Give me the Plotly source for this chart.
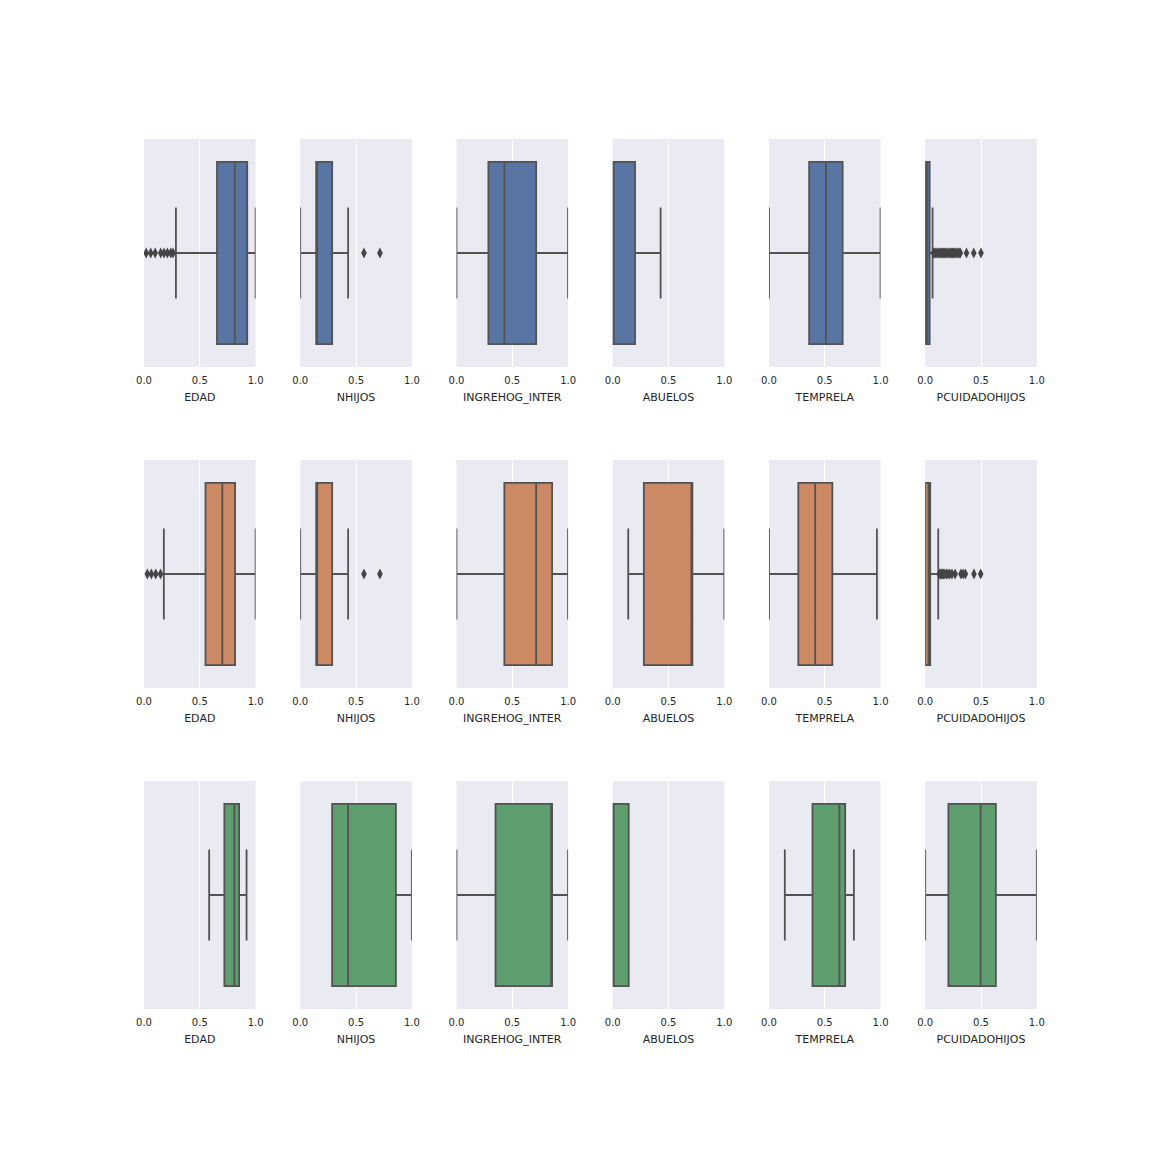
import plotly.graph_objects as go

# ---------------- data ----------------
variables = ["EDAD", "NHIJOS", "INGREHOG_INTER", "ABUELOS", "TEMPRELA", "PCUIDADOHIJOS"]
group_colors = ["#5975a4", "#cc8963", "#5f9e6e"]
tick_vals = [0.0, 0.5, 1.0]
tick_text = ["0.0", "0.5", "1.0"]

g1_q1 =     [0.654, 0.143, 0.286, 0.000, 0.360, 0.000]
g1_median = [0.813, 0.143, 0.429, 0.000, 0.510, 0.015]
g1_q3 =     [0.925, 0.286, 0.714, 0.200, 0.660, 0.040]
g1_low =    [0.286, 0.000, 0.000, 0.000, 0.000, 0.000]
g1_high =   [1.000, 0.429, 1.000, 0.429, 1.000, 0.066]
g1_out = [
    [0.02, 0.06, 0.10, 0.15, 0.18, 0.21, 0.24, 0.26],
    [0.571, 0.714], [], [], [],
    [0.075, 0.085, 0.095, 0.105, 0.115, 0.125, 0.135, 0.145, 0.155, 0.165, 0.175,
     0.185, 0.195, 0.205, 0.215, 0.225, 0.235, 0.245, 0.255, 0.265, 0.275, 0.285,
     0.295, 0.305, 0.315, 0.37, 0.435, 0.50],
]
g2_q1 =     [0.551, 0.143, 0.429, 0.279, 0.263, 0.000]
g2_median = [0.702, 0.143, 0.714, 0.714, 0.414, 0.030]
g2_q3 =     [0.816, 0.286, 0.857, 0.714, 0.568, 0.045]
g2_low =    [0.178, 0.000, 0.000, 0.139, 0.000, 0.000]
g2_high =   [1.000, 0.429, 1.000, 1.000, 0.967, 0.117]
g2_out = [
    [0.03, 0.066, 0.105, 0.148],
    [0.571, 0.714], [], [], [],
    [0.125, 0.135, 0.145, 0.155, 0.165, 0.175, 0.19, 0.205, 0.22, 0.24, 0.268,
     0.32, 0.34, 0.36, 0.437, 0.497],
]
g3_q1 =     [0.720, 0.286, 0.350, 0.000, 0.390, 0.208]
g3_median = [0.810, 0.429, 0.857, 0.000, 0.631, 0.497]
g3_q3 =     [0.852, 0.857, 0.857, 0.143, 0.683, 0.633]
g3_low =    [0.584, 0.286, 0.000, 0.000, 0.142, 0.000]
g3_high =   [0.919, 1.000, 1.000, 0.143, 0.761, 1.000]
g3_out = [[], [], [], [], [], []]

groups = [
    (g1_q1, g1_median, g1_q3, g1_low, g1_high, g1_out),
    (g2_q1, g2_median, g2_q3, g2_low, g2_high, g2_out),
    (g3_q1, g3_median, g3_q3, g3_low, g3_high, g3_out),
]

W = H = 1152
left0, pw, pgap = 144.0, 111.6, 44.64
top0, ph, vgap = 139.0, 228.0, 93.0
line_gray = "#525252"
flier_gray = "#444444"

fig = go.Figure()
layout_axes = {}
n = 0
for r, (q1, med, q3, lo, hi, outs) in enumerate(groups):
    for c, var in enumerate(variables):
        n += 1
        xa = "x" if n == 1 else f"x{n}"
        ya = "y" if n == 1 else f"y{n}"
        fig.add_trace(go.Box(
            y=[0], q1=[q1[c]], median=[med[c]], q3=[q3[c]],
            lowerfence=[lo[c]], upperfence=[hi[c]],
            orientation="h", width=0.8, whiskerwidth=0.5,
            fillcolor=group_colors[r], line=dict(color=line_gray, width=1.8),
            boxpoints=False, showlegend=False, hoverinfo="skip",
            xaxis=xa, yaxis=ya,
        ))
        if outs[c]:
            fig.add_trace(go.Scatter(
                x=outs[c], y=[0] * len(outs[c]), mode="markers",
                marker=dict(symbol="diamond-tall", size=8, color=flier_gray,
                            line=dict(width=0)),
                showlegend=False, hoverinfo="skip", xaxis=xa, yaxis=ya,
            ))
        x0 = (left0 + c * (pw + pgap)) / W
        x1 = (left0 + c * (pw + pgap) + pw) / W
        ytop = top0 + r * (ph + vgap)
        y1 = 1 - ytop / H
        y0 = 1 - (ytop + ph) / H
        kx = "xaxis" if n == 1 else f"xaxis{n}"
        ky = "yaxis" if n == 1 else f"yaxis{n}"
        layout_axes[kx] = dict(
            domain=[x0, x1], anchor=ya, range=[0, 1],
            tickvals=tick_vals, ticktext=tick_text,
            ticks="outside", ticklen=4, tickcolor="rgba(0,0,0,0)",
            tickfont=dict(family="DejaVu Sans", size=10, color="#262626"),
            showgrid=True, gridcolor="white", gridwidth=1,
            zeroline=False, showline=False, fixedrange=True, automargin=False,
            title=dict(text=var, standoff=8,
                       font=dict(family="DejaVu Sans", size=11, color="#262626")),
        )
        layout_axes[ky] = dict(
            domain=[y0, y1], anchor=xa, range=[0.5, -0.5],
            showticklabels=False, showgrid=False, zeroline=False,
            ticks="", showline=False, fixedrange=True, automargin=False,
        )

fig.update_layout(
    width=W, height=H, autosize=False,
    margin=dict(l=0, r=0, t=0, b=0, pad=0, autoexpand=False),
    paper_bgcolor="white", plot_bgcolor="#EAEAF2",
    font=dict(family="DejaVu Sans", color="#262626"),
    showlegend=False,
    **layout_axes,
)

fig.write_html("out.html")
